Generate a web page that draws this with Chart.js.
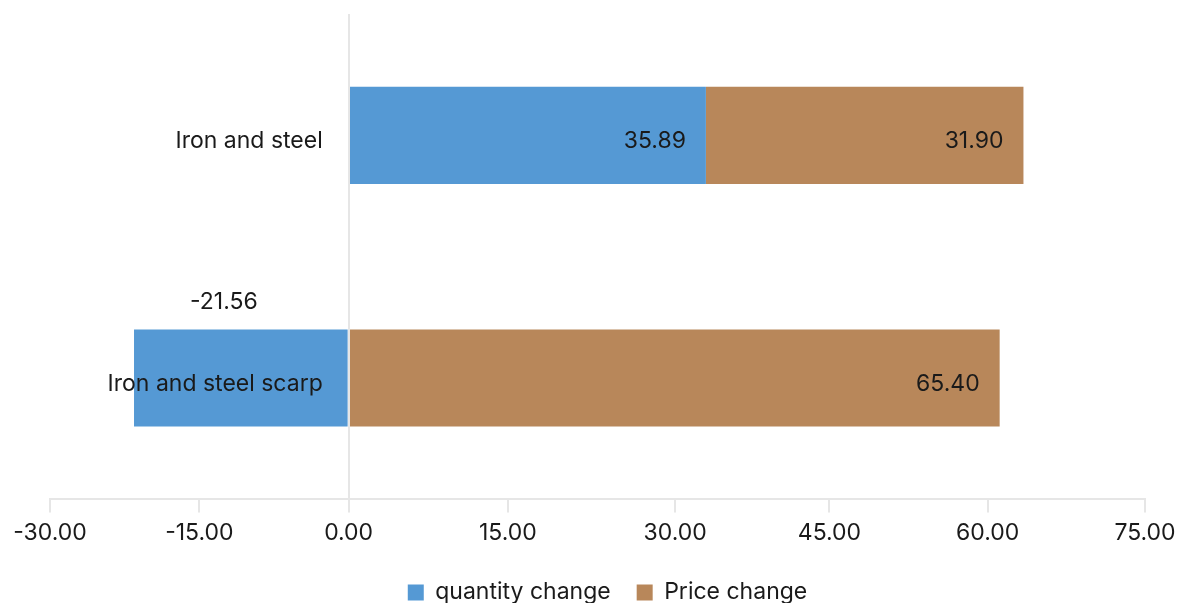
<!DOCTYPE html>
<html>
<head>
<meta charset="utf-8">
<script src="https://cdn.jsdelivr.net/npm/chart.js@4.4.1/dist/chart.umd.min.js"></script>
<style>
  html, body { margin: 0; padding: 0; background: #ffffff; }
  #wrap { width: 1183px; height: 603px; }
</style>
</head>
<body>
<div id="wrap"><canvas id="chart" width="1183" height="603"></canvas></div>
<script>
// Categories and series
const categories = ['Iron and steel', 'Iron and steel scarp'];
const quantityChange = [35.89, -21.56];
const priceChange = [31.90, 65.40];
const seriesNames = ['quantity change', 'Price change'];

// Axis ticks: where each tick sits on the value axis, and what it reads
const tickPositions = [-30, -15, 0, 16, 32.8, 48.3, 64.2, 80];
const tickLabels = ['-30.00', '-15.00', '0.00', '15.00', '30.00', '45.00', '60.00', '75.00'];

const FONT = 'Inter, Lato, sans-serif';
const FONT_SIZE = 23;
const TEXT = '#1a1a1a';
const LINE = '#e6e6e6';

// Value labels: positive bars get their value inside the end,
// the negative bar gets it above the bar.
const valueLabels = {
  id: 'valueLabels',
  afterDatasetsDraw(chart) {
    const ctx = chart.ctx;
    ctx.save();
    ctx.font = FONT_SIZE + 'px ' + FONT;
    ctx.fillStyle = TEXT;
    ctx.textBaseline = 'middle';
    chart.data.datasets.forEach((ds, di) => {
      const meta = chart.getDatasetMeta(di);
      meta.data.forEach((bar, i) => {
        const v = ds.data[i];
        const txt = v.toFixed(2);
        if (v >= 0) {
          ctx.textAlign = 'right';
          ctx.fillText(txt, bar.x - 20, bar.y + 6);
        } else {
          ctx.textAlign = 'left';
          ctx.fillText(txt, bar.x + 56, bar.y - bar.height / 2 - 27);
        }
      });
    });
    ctx.restore();
  }
};

// Moves the legend row a little to the right of centre
const legendNudge = {
  id: 'legendNudge',
  afterLayout(chart) {
    const lg = chart.legend;
    if (lg) { lg.left += 10; lg.right += 10; }
  }
};

new Chart(document.getElementById('chart'), {
  type: 'bar',
  data: {
    labels: categories,
    datasets: [
      { label: seriesNames[0], data: quantityChange, backgroundColor: '#5599d4', borderWidth: 0 },
      { label: seriesNames[1], data: priceChange, backgroundColor: '#b8875a', borderWidth: 0 }
    ]
  },
  options: {
    indexAxis: 'y',
    responsive: false,
    animation: false,
    layout: { padding: { left: 50, right: 38, top: 14, bottom: -11 } },
    datasets: { bar: { categoryPercentage: 1, barPercentage: 0.4 } },
    scales: {
      x: {
        type: 'linear',
        stacked: true,
        min: -30,
        max: 80,
        afterBuildTicks(scale) {
          scale.ticks = tickPositions.map(v => ({ value: v }));
        },
        afterFit(scale) {
          scale.height += 1;
        },
        // only the zero line is drawn across the plot; every tick keeps its mark
        grid: {
          drawOnChartArea: true,
          drawTicks: true,
          tickLength: 13,
          z: 1,
          lineWidth: 2,
          color: (ctx) => (ctx.tick && ctx.tick.value === 0 ? LINE : 'rgba(0,0,0,0)'),
          tickColor: LINE
        },
        border: { display: true, color: LINE, width: 2, z: 1 },
        ticks: {
          autoSkip: false,
          maxRotation: 0,
          padding: 7,
          color: TEXT,
          font: { family: FONT, size: FONT_SIZE },
          callback: (v, i) => tickLabels[i]
        }
      },
      y: {
        type: 'category',
        stacked: true,
        // category names sit just left of the zero line
        position: { x: -2.6 },
        afterFit(scale) {
          scale.paddingTop = 0;
          scale.paddingBottom = 0;
        },
        grid: { display: false },
        border: { display: false },
        ticks: { z: 1, padding: 0, labelOffset: 6, color: TEXT, font: { family: FONT, size: FONT_SIZE } }
      }
    },
    plugins: {
      legend: {
        position: 'bottom',
        labels: {
          boxWidth: 16,
          boxHeight: 16,
          padding: 26,
          color: TEXT,
          font: { family: FONT, size: FONT_SIZE }
        }
      },
      tooltip: { enabled: false }
    }
  },
  plugins: [valueLabels, legendNudge]
});
</script>
</body>
</html>
